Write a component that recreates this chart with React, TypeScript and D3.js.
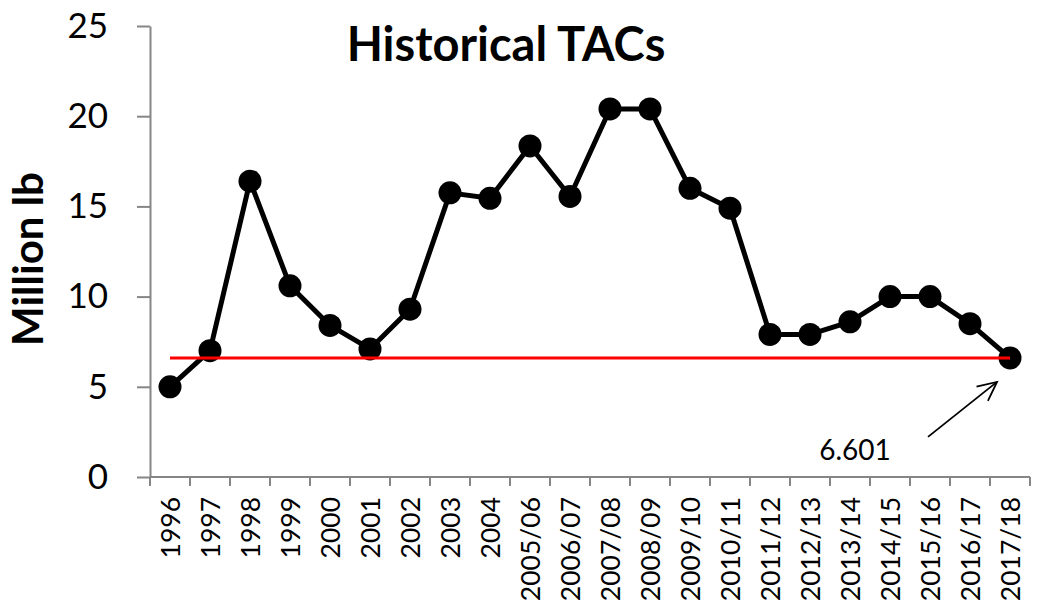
import { useEffect, useRef } from 'react';
import * as d3 from 'd3';

const seasons = [
  '1996', '1997', '1998', '1999', '2000', '2001', '2002', '2003', '2004',
  '2005/06', '2006/07', '2007/08', '2008/09', '2009/10', '2010/11', '2011/12',
  '2012/13', '2013/14', '2014/15', '2015/16', '2016/17', '2017/18',
];
const tacs = [
  5.0, 7.0, 16.4, 10.6, 8.4, 7.1, 9.3, 15.75, 15.45, 18.35, 15.55, 20.4, 20.4,
  16.0, 14.9, 7.9, 7.9, 8.6, 10.0, 10.0, 8.5, 6.601,
];
const yTicks = [0, 5, 10, 15, 20, 25];
const currentTac = 6.601;

export default function App() {
  const ref = useRef<SVGSVGElement | null>(null);

  useEffect(() => {
    if (!ref.current) return;
    const svg = d3.select(ref.current);
    svg.selectAll('*').remove();

    const width = 1038;
    const height = 606;
    const margin = { top: 26, right: 8, bottom: 129, left: 150 };
    const font = 'Lato, "Open Sans", sans-serif';
    const axisColor = '#868686';

    const x = d3.scaleBand<string>()
      .domain(seasons)
      .range([margin.left, width - margin.right]);
    const cx = (s: string) => x(s)! + x.bandwidth() / 2;

    const y = d3.scaleLinear()
      .domain([0, 25])
      .range([height - margin.bottom, margin.top]);

    svg.attr('width', width).attr('height', height);

    // y axis
    const yAxis = svg.append('g')
      .attr('transform', `translate(${margin.left},0)`)
      .call(d3.axisLeft(y).tickValues(yTicks).tickSize(13).tickSizeOuter(0).tickPadding(29));
    yAxis.select('.domain').attr('stroke', axisColor).attr('stroke-width', 2);
    yAxis.selectAll('.tick line').attr('stroke', axisColor).attr('stroke-width', 2);
    yAxis.selectAll('.tick text')
      .attr('font-family', font)
      .attr('font-size', 35)
      .attr('fill', '#000');

    // x axis (ticks at category boundaries, excel style)
    const x0 = y(0);
    const xAxis = svg.append('g');
    xAxis.append('line')
      .attr('x1', margin.left).attr('x2', width - margin.right)
      .attr('y1', x0).attr('y2', x0)
      .attr('stroke', axisColor).attr('stroke-width', 2);
    const bounds = [...seasons.map((s) => x(s)!), x.range()[1]];
    xAxis.selectAll('line.tk')
      .data(bounds)
      .join('line')
      .attr('class', 'tk')
      .attr('x1', (d) => d).attr('x2', (d) => d)
      .attr('y1', x0).attr('y2', x0 + 9)
      .attr('stroke', axisColor).attr('stroke-width', 2);
    xAxis.selectAll('text')
      .data(seasons)
      .join('text')
      .attr('transform', (d) => `translate(${cx(d) + 9.5},${x0 + 20}) rotate(-90)`)
      .attr('text-anchor', 'end')
      .attr('font-family', font)
      .attr('font-size', 26.5)
      .text((d) => d);

    // series line
    const line = d3.line<number>()
      .x((_, i) => cx(seasons[i]))
      .y((d) => y(d));
    svg.append('path')
      .attr('d', line(tacs)!)
      .attr('fill', 'none')
      .attr('stroke', '#000')
      .attr('stroke-width', 5)
      .attr('stroke-linejoin', 'round');
    svg.selectAll('circle')
      .data(tacs)
      .join('circle')
      .attr('cx', (_, i) => cx(seasons[i]))
      .attr('cy', (d) => y(d))
      .attr('r', 11.5)
      .attr('fill', '#000');

    // current TAC reference line
    svg.append('line')
      .attr('x1', cx(seasons[0]))
      .attr('x2', cx(seasons[seasons.length - 1]))
      .attr('y1', y(currentTac))
      .attr('y2', y(currentTac))
      .attr('stroke', '#ff0000')
      .attr('stroke-width', 3);

    // annotation arrow
    const lx = cx(seasons[seasons.length - 1]);
    const ly = y(currentTac);
    const tip = [lx - 13, ly + 24];
    const tail = [lx - 82, ly + 79];
    const ang = Math.atan2(tip[1] - tail[1], tip[0] - tail[0]);
    const head = 21;
    const arrow = svg.append('g').attr('stroke', '#000').attr('stroke-width', 1.8).attr('fill', 'none');
    arrow.append('line')
      .attr('x1', tail[0]).attr('y1', tail[1])
      .attr('x2', tip[0]).attr('y2', tip[1]);
    arrow.append('path')
      .attr('d', [
        `M${tip[0] + head * Math.cos(ang + Math.PI - 0.45)},${tip[1] + head * Math.sin(ang + Math.PI - 0.45)}`,
        `L${tip[0]},${tip[1]}`,
        `L${tip[0] + head * Math.cos(ang + Math.PI + 0.45)},${tip[1] + head * Math.sin(ang + Math.PI + 0.45)}`,
      ].join(''));
    svg.append('text')
      .attr('x', lx - 155)
      .attr('y', ly + 102)
      .attr('text-anchor', 'middle')
      .attr('font-family', font)
      .attr('font-size', 28)
      .text(d3.format('.3f')(currentTac));

    // title
    svg.append('text')
      .attr('x', 506)
      .attr('y', 61)
      .attr('text-anchor', 'middle')
      .attr('font-family', font)
      .attr('font-weight', 'bold')
      .attr('font-size', 47)
      .text('Historical TACs');

    // y label
    svg.append('text')
      .attr('transform', `translate(43,${259}) rotate(-90)`)
      .attr('text-anchor', 'middle')
      .attr('font-family', font)
      .attr('font-weight', 'bold')
      .attr('font-size', 42)
      .text('Million lb');
  }, []);

  return (
    <div style={{ position: 'absolute', left: 0, top: 0 }}>
      <svg ref={ref}></svg>
    </div>
  );
}
